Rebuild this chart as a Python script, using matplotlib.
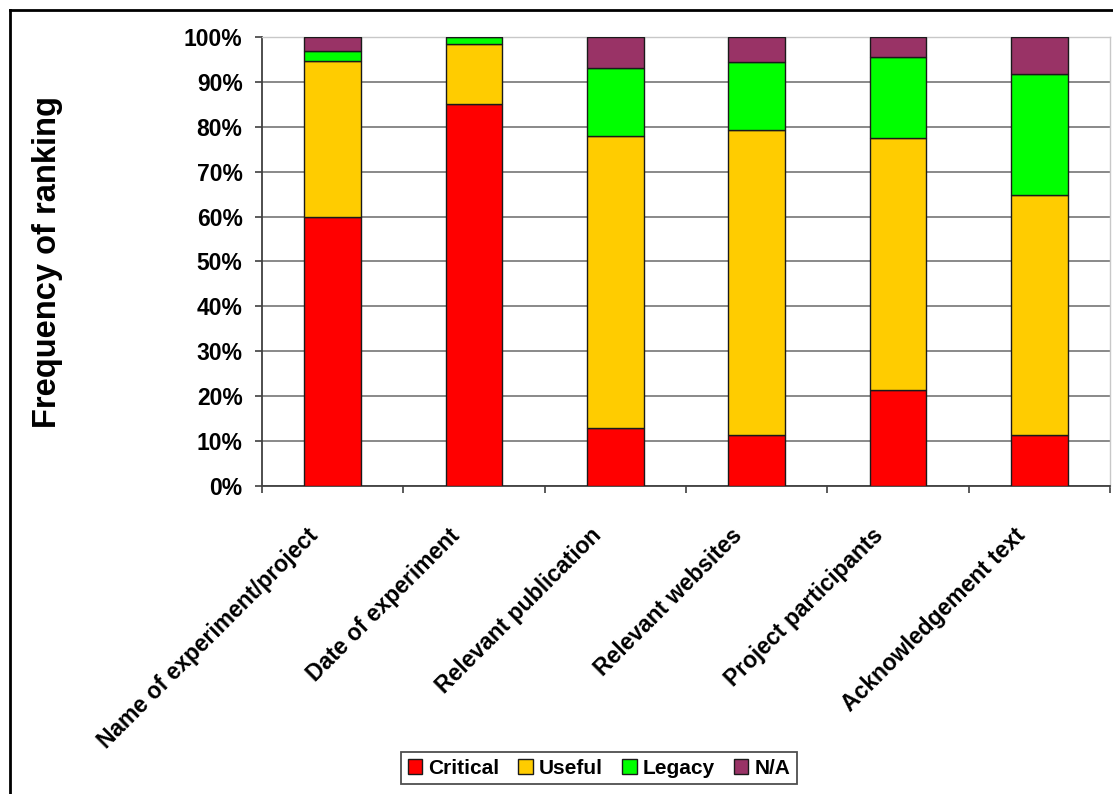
import matplotlib
matplotlib.use("Agg")
import matplotlib.pyplot as plt
from matplotlib.lines import Line2D
from matplotlib.transforms import offset_copy
import numpy as np

categories = [
    "Name of experiment/project",
    "Date of experiment",
    "Relevant publication",
    "Relevant websites",
    "Project participants",
    "Acknowledgement text",
]
critical = [60.0, 85.0, 12.9, 11.4, 21.4, 11.4]
useful = [34.7, 13.4, 65.1, 67.9, 56.1, 53.4]
legacy = [2.2, 1.6, 15.2, 15.2, 18.1, 26.9]
not_applicable = [3.1, 0.0, 6.8, 5.5, 4.4, 8.3]

series_names = ["Critical", "Useful", "Legacy", "N/A"]
series_colors = ["#FF0000", "#FFCC00", "#00FF00", "#993366"]
y_ticks = [0, 10, 20, 30, 40, 50, 60, 70, 80, 90, 100]

plt.rcParams["font.family"] = ["Liberation Sans", "DejaVu Sans"]
plt.rcParams["font.weight"] = "bold"

fig = plt.figure(figsize=(11.13, 7.94), dpi=100)
ax = fig.add_axes([262 / 1113, 1 - 486 / 794, (1110 - 262) / 1113, (486 - 37) / 794])

x = np.arange(len(categories))
bottom = np.zeros(len(categories))
handles = []
for name, vals, col in zip(series_names,
                           [critical, useful, legacy, not_applicable],
                           series_colors):
    vals = np.array(vals)
    bars = ax.bar(x, vals, width=0.4, bottom=bottom, color=col,
                  edgecolor="#1a1a1a", linewidth=1.0, label=name, zorder=3)
    handles.append(bars)
    bottom += vals

ax.set_xlim(-0.5, len(categories) - 0.5)
ax.set_ylim(0, 100)

ax.set_yticks(y_ticks)
ax.set_yticklabels([f"{v}%" for v in y_ticks], fontsize=16.5, fontweight="bold")
ax.yaxis.grid(True, color="#808080", linewidth=1.3, zorder=0)
ax.set_axisbelow(True)

# category labels, slanted and hung below each bar
ax.set_xticks(x)
ax.set_xticklabels([])
ax.tick_params(axis="x", which="major", length=0)
label_tf = offset_copy(ax.get_xaxis_transform(), fig=fig, x=-26, y=-38,
                       units="dots")
for i, cat in enumerate(categories):
    ax.text(i, 0, cat, transform=label_tf, rotation=45, ha="right", va="top",
            rotation_mode="anchor", fontsize=16.5, fontweight="bold")

ax.set_xticks(np.arange(-0.5, len(categories)), minor=True)
ax.tick_params(axis="x", which="minor", length=5, width=1.2,
               color="#404040", direction="out")
ax.tick_params(axis="y", length=5, width=1.2, color="#404040",
               direction="out", pad=9)

for side in ("left", "bottom"):
    ax.spines[side].set_color("#404040")
    ax.spines[side].set_linewidth(1.3)
for side in ("top", "right"):
    ax.spines[side].set_color("#c8c8c8")
    ax.spines[side].set_linewidth(1.0)

fig.text(48 / 1113, 1 - 262 / 794, "Frequency of ranking", rotation=90,
         ha="center", va="center", fontsize=23.5, fontweight="bold")

leg = fig.legend(handles, series_names, loc="center", ncol=4,
                 bbox_to_anchor=(599 / 1113, 1 - 768 / 794),
                 prop={"weight": "bold", "size": 15},
                 frameon=True, fancybox=False, edgecolor="#222222",
                 handlelength=0.7, handleheight=0.7, handletextpad=0.3,
                 columnspacing=0.9, borderpad=0.3)
leg.get_frame().set_linewidth(1.3)

# outer chart frame (top and left edges visible)
fig.add_artist(Line2D([10 / 1113, 1.0], [1 - 10 / 794, 1 - 10 / 794],
                      transform=fig.transFigure, color="black", linewidth=2))
fig.add_artist(Line2D([10 / 1113, 10 / 1113], [0.0, 1 - 10 / 794],
                      transform=fig.transFigure, color="black", linewidth=2))

fig.savefig("out.png", dpi=100)
